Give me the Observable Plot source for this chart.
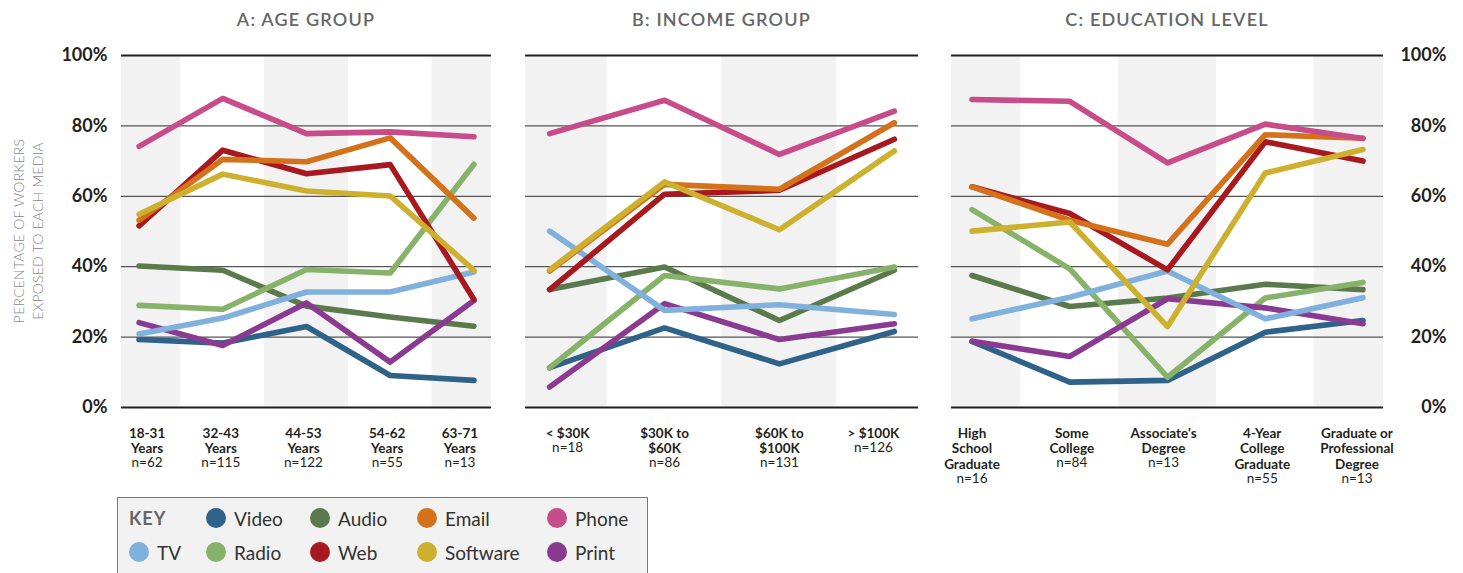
<!DOCTYPE html>
<html>
<head>
<meta charset="utf-8">
<script src="https://cdn.jsdelivr.net/npm/d3@7"></script>
<script src="https://cdn.jsdelivr.net/npm/@observablehq/plot@0.6"></script>
<style>
  body { margin: 0; background: #fff; font-family: Lato, "Open Sans", sans-serif; }
  #root { position: relative; width: 1463px; height: 573px; overflow: hidden; background: #fff; }
  .ptitle { position: absolute; top: 8px; font-size: 18px; font-weight: 600; color: #666; letter-spacing: 1.2px; transform: translateX(-50%); white-space: nowrap; }
  .panel { position: absolute; top: 40px; }
  .ytitle { position: absolute; left: 28px; top: 231px; width: 260px; transform: translate(-50%, -50%) rotate(-90deg); text-align: center; font-size: 14px; font-weight: 300; color: #888; line-height: 19px; letter-spacing: 0.2px; white-space: nowrap; }
  .legend { position: absolute; left: 117px; top: 497px; width: 531px; height: 100px; background: #f2f2f2; border: 1.5px solid #777; box-sizing: border-box; }
  .lgrid { position: absolute; left: 11px; top: 3px; display: grid; grid-template-columns: 77px 104px 107px 130px 100px; grid-auto-rows: 34px; }
  .item { display: flex; align-items: center; font-size: 19px; color: #333; }
  .dot { width: 20px; height: 20px; border-radius: 50%; margin-right: 8px; flex: none; }
  .key { font-size: 18px; font-weight: 700; color: #666; letter-spacing: 1px; display: flex; align-items: center; }
</style>
</head>
<body>
<div id="root"></div>
<script>
// ---------- data ----------
const media = ["Video", "TV", "Audio", "Radio", "Web", "Email", "Software", "Phone", "Print"];
const mediaColors = ["#2e6289", "#80b0dc", "#5a7a4c", "#86b26a", "#a8191f", "#d4721c", "#cdb02e", "#c84b8a", "#8a3a90"];
// drawing order (bottom to top)
const drawOrder = ["Video", "Audio", "Radio", "Print", "TV", "Web", "Email", "Software", "Phone"];
const legendRow1 = ["Video", "Audio", "Email", "Phone"];
const legendRow2 = ["TV", "Radio", "Web", "Software", "Print"];

const yTicks = [0, 20, 40, 60, 80, 100];

const panelTitles = ["A: AGE GROUP", "B: INCOME GROUP", "C: EDUCATION LEVEL"];

const ageLabels = [["18-31", "Years"], ["32-43", "Years"], ["44-53", "Years"], ["54-62", "Years"], ["63-71", "Years"]];
const ageN = ["n=62", "n=115", "n=122", "n=55", "n=13"];
// rows follow `media` order
const ageValues = [
  [19.3, 18.3, 23.0, 9.1, 7.7],    // Video
  [20.9, 25.4, 32.8, 32.8, 38.5],  // TV
  [40.2, 39.0, 28.8, 25.7, 23.1],  // Audio
  [29.0, 27.9, 39.2, 38.2, 69.1],  // Radio
  [51.6, 73.1, 66.4, 69.0, 30.7],  // Web
  [53.2, 70.5, 69.8, 76.6, 53.8],  // Email
  [54.9, 66.3, 61.5, 60.1, 39.0],  // Software
  [74.2, 87.8, 77.8, 78.3, 76.9],  // Phone
  [24.1, 17.6, 29.7, 12.9, 30.4]   // Print
];

const incomeLabels = [["< $30K"], ["$30K to", "$60K"], ["$60K to", "$100K"], ["> $100K"]];
const incomeN = ["n=18", "n=86", "n=131", "n=126"];
const incomeValues = [
  [11.3, 22.6, 12.4, 21.6],  // Video
  [50.1, 27.6, 29.2, 26.4],  // TV
  [33.5, 39.9, 24.7, 39.0],  // Audio
  [11.3, 37.5, 33.7, 39.9],  // Radio
  [33.5, 60.6, 61.7, 76.2],  // Web
  [38.8, 63.4, 62.0, 80.9],  // Email
  [39.1, 64.1, 50.5, 72.9],  // Software
  [77.8, 87.3, 71.9, 84.2],  // Phone
  [5.8, 29.5, 19.3, 23.8]    // Print
];

const eduLabels = [["High", "School", "Graduate"], ["Some", "College"], ["Associate's", "Degree"], ["4-Year", "College", "Graduate"], ["Graduate or", "Professional", "Degree"]];
const eduN = ["n=16", "n=84", "n=13", "n=55", "n=13"];
const eduValues = [
  [18.8, 7.2, 7.7, 21.4, 24.7],    // Video
  [25.2, 31.3, 38.8, 25.2, 31.2],  // TV
  [37.5, 28.7, 31.1, 35.0, 33.5],  // Audio
  [56.2, 39.4, 8.6, 31.1, 35.5],   // Radio
  [62.7, 55.1, 39.1, 75.5, 70.0],  // Web
  [62.7, 53.2, 46.4, 77.5, 76.5],  // Email
  [50.1, 52.7, 23.0, 66.6, 73.3],  // Software
  [87.5, 87.0, 69.5, 80.5, 76.4],  // Phone
  [18.8, 14.5, 30.9, 28.3, 23.8]   // Print
];

// ---------- drawing ----------
const root = document.getElementById("root");
const FONT = "Lato, 'Open Sans', sans-serif";

function makePanel({labels, ns, values, left, width, ml, mr, axis, shift}) {
  const n = labels.length;
  const pad = 0.21;
  const idx = d3.range(n);
  const bands = idx.filter(i => i % 2 === 0).map(i => ({
    x1: Math.max(i - 0.5, -pad), x2: Math.min(i + 0.5, n - 1 + pad), y1: 0, y2: 100
  }));
  const rows = [];
  drawOrder.forEach(m => {
    const k = media.indexOf(m);
    values[k].forEach((v, i) => rows.push({m, i, v}));
  });
  const marks = [
    Plot.rect(bands, {x1: "x1", x2: "x2", y1: "y1", y2: "y2", fill: "#f2f2f2"}),
    Plot.ruleY(yTicks, {
      stroke: d => (d === 0 || d === 100) ? "#231f20" : "#555",
      strokeWidth: d => (d === 0 || d === 100) ? 2.2 : 1.3
    }),
    Plot.line(rows, {x: "i", y: "v", z: "m", stroke: "m", strokeWidth: 5.6, strokeLinecap: "round", strokeLinejoin: "round"})
  ];
  idx.forEach(i => {
    marks.push(Plot.text([i], {
      x: d => d, frameAnchor: "bottom", lineAnchor: "top", dy: 19, dx: shift[i],
      text: d => labels[d].join("\n"), fontWeight: "bold", fontSize: 13.5, lineHeight: 1.15, fill: "#231f20"
    }));
    marks.push(Plot.text([i], {
      x: d => d, frameAnchor: "bottom", lineAnchor: "top", dy: 19 + labels[i].length * 15.5, dx: shift[i],
      text: d => ns[d], fontSize: 13.5, fill: "#231f20"
    }));
  });
  if (axis === "left") {
    marks.push(Plot.axisY(yTicks, {anchor: "left", tickSize: 0, tickPadding: 14, tickFormat: d => d + "%", fontSize: 18, fontWeight: "bold", fill: "#231f20"}));
  } else if (axis === "right") {
    marks.push(Plot.axisY(yTicks, {anchor: "right", tickSize: 0, tickPadding: 0, textAnchor: "end", dx: 63, tickFormat: d => d + "%", fontSize: 18, fontWeight: "bold", fill: "#231f20"}));
  }
  const chart = Plot.plot({
    width, height: 460,
    marginLeft: ml, marginRight: mr, marginTop: 15, marginBottom: 93,
    x: {type: "linear", domain: [-pad, n - 1 + pad], axis: null},
    y: {domain: [0, 100], axis: null},
    color: {domain: media, range: mediaColors},
    style: {fontFamily: FONT, background: "transparent", overflow: "visible"},
    marks
  });
  const wrap = document.createElement("div");
  wrap.className = "panel";
  wrap.style.left = left + "px";
  wrap.appendChild(chart);
  root.appendChild(wrap);
  return {cx: left + ml + (width - ml - mr) / 2};
}

const pA = makePanel({labels: ageLabels, ns: ageN, values: ageValues, left: 0, width: 510, ml: 121, mr: 19, axis: "left", shift: [8, -2, -3, -3, -14]});
const pB = makePanel({labels: incomeLabels, ns: incomeN, values: incomeValues, left: 510, width: 420, ml: 15, mr: 12, axis: null, shift: [18, 0, 0, -21]});
const pC = makePanel({labels: eduLabels, ns: eduN, values: eduValues, left: 930, width: 533, ml: 21, mr: 80, axis: "right", shift: [0, 2, -4, -3, -6]});

[pA, pB, pC].forEach((p, i) => {
  const t = document.createElement("div");
  t.className = "ptitle";
  t.style.left = p.cx + "px";
  t.textContent = panelTitles[i];
  root.appendChild(t);
});

const yt = document.createElement("div");
yt.className = "ytitle";
yt.innerHTML = "PERCENTAGE OF WORKERS<br>EXPOSED TO EACH MEDIA";
root.appendChild(yt);

// legend
const legend = document.createElement("div");
legend.className = "legend";
const grid = document.createElement("div");
grid.className = "lgrid";
const key = document.createElement("div");
key.className = "key";
key.textContent = "KEY";
grid.appendChild(key);
function addItem(m) {
  const it = document.createElement("div");
  it.className = "item";
  const dot = document.createElement("span");
  dot.className = "dot";
  dot.style.background = mediaColors[media.indexOf(m)];
  it.appendChild(dot);
  it.appendChild(document.createTextNode(m));
  grid.appendChild(it);
}
legendRow1.forEach(addItem);
legendRow2.forEach(addItem);
legend.appendChild(grid);
root.appendChild(legend);
</script>
</body>
</html>
